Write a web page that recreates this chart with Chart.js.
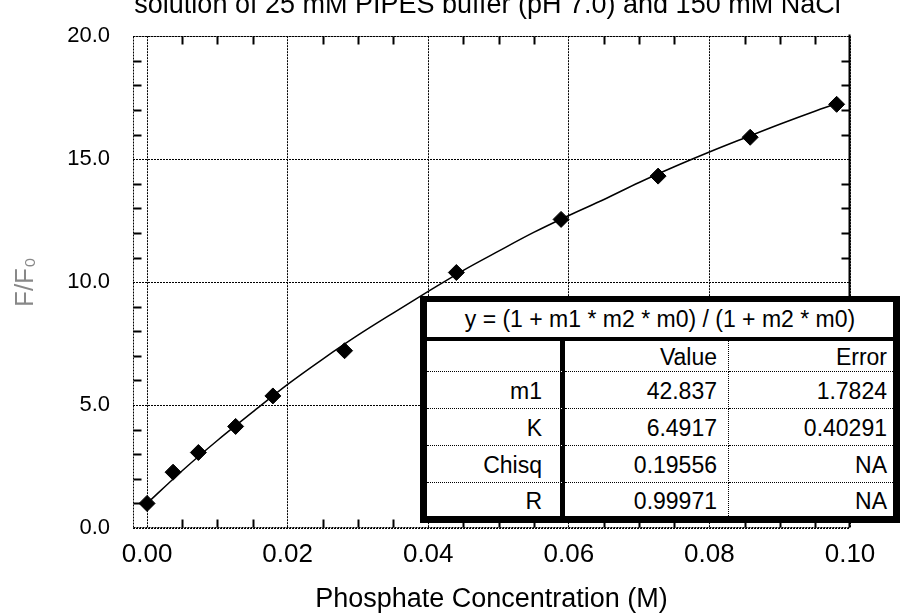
<!DOCTYPE html>
<html>
<head>
<meta charset="utf-8">
<script src="https://cdn.jsdelivr.net/npm/chart.js@4"></script>
<style>
  body { margin: 0; background: #fff; }
  #wrap { position: relative; width: 900px; height: 616px; overflow: hidden; font-family: "Liberation Sans", Arial, sans-serif; }
  #fit { position: absolute; left: 420px; top: 296px; width: 480px; height: 227px; box-sizing: border-box;
         border: 7px solid #000; border-top-width: 6px; background: #fff; display: grid;
         grid-template-columns: 138px 164px 164px; grid-template-rows: 39px 31px 37px 37px 37px 33px;
         font-size: 23px; color: #000; }
  #fit div { box-sizing: border-box; display: flex; align-items: center; justify-content: flex-end;
             padding-top: 3px; border-bottom: 1px dotted #000; white-space: nowrap; }
  #fit .eq { grid-column: 1 / 4; justify-content: center; border-bottom: 4px solid #000; padding-top: 0; }
  #fit .c1 { border-right: 5px solid #000; padding-right: 18px; }
  #fit .c2 { border-right: 1px dotted #000; padding-right: 11px; }
  #fit .c3 { padding-right: 6px; }
  #fit .last { border-bottom: none; }
</style>
</head>
<body>
<div id="wrap">
  <canvas id="grafico" width="900" height="616"></canvas>
  <div id="fit"></div>
</div>
<script>
// valores
const concentration = [0, 0.0037, 0.0073, 0.0126, 0.0179, 0.0281, 0.0440, 0.0589, 0.0727, 0.0858, 0.0981];
const ratio = [1.00, 2.27, 3.07, 4.13, 5.37, 7.21, 10.39, 12.55, 14.31, 15.89, 17.23];

// curva ajustada
const fitX = [0, 0.005, 0.01, 0.015, 0.02, 0.025, 0.03, 0.035, 0.04, 0.045, 0.05, 0.055, 0.06, 0.065, 0.07, 0.075, 0.08, 0.085, 0.09, 0.095, 0.098];
const fitY = [1.00, 2.33, 3.56, 4.71, 5.84, 6.87, 7.84, 8.74, 9.62, 10.48, 11.26, 12.02, 12.71, 13.36, 14.05, 14.69, 15.29, 15.86, 16.42, 16.95, 17.25];

const xTickValues = [0, 0.02, 0.04, 0.06, 0.08, 0.1];
const xTickLabels = ['0.00', '0.02', '0.04', '0.06', '0.08', '0.10'];
const yTickValues = [0, 5, 10, 15, 20];
const yTickLabels = ['0.0', '5.0', '10.0', '15.0', '20.0'];
const xMinorTicks = [0.005, 0.01, 0.015, 0.025, 0.03, 0.035, 0.045, 0.05, 0.055, 0.065, 0.07, 0.075, 0.085, 0.09, 0.095];
const yMinorTicks = [1, 2, 3, 4, 6, 7, 8, 9, 11, 12, 13, 14, 16, 17, 18, 19];

const chartTitle = 'solution of 25 mM PIPES buffer (pH 7.0) and 150 mM NaCl';
const xTitle = 'Phosphate Concentration (M)';
const yTitle = 'F/F₀';

const fitEquation = 'y = (1 + m1 * m2 * m0) / (1 + m2 * m0)';
const fitHeaders = ['', 'Value', 'Error'];
const fitParams = ['m1', 'K', 'Chisq', 'R'];
const fitValues = ['42.837', '6.4917', '0.19556', '0.99971'];
const fitErrors = ['1.7824', '0.40291', 'NA', 'NA'];

Chart.defaults.font.family = '"Liberation Sans", Arial, sans-serif';
Chart.defaults.color = '#000';

// moldura + tracinhos para dentro + título
const framePlugin = {
  id: 'frame',
  beforeDatasetsDraw(chart) {
    const {ctx, chartArea: a, scales} = chart;
    const L = Math.round(a.left) + 0.5, R = Math.round(a.right) - 0.5;
    const T = Math.round(a.top) + 0.5, B = Math.round(a.bottom) - 0.5;
    ctx.save();
    ctx.strokeStyle = '#000';
    ctx.lineWidth = 1;
    ctx.setLineDash([2, 1]);
    ctx.beginPath();
    ctx.moveTo(L, T); ctx.lineTo(R, T);
    ctx.moveTo(L, T); ctx.lineTo(L, B);
    ctx.moveTo(L, B); ctx.lineTo(R, B);
    ctx.stroke();
    ctx.setLineDash([]);
    ctx.beginPath();
    ctx.moveTo(R, T - 2); ctx.lineTo(R, B);
    xMinorTicks.forEach(v => {
      const px = Math.round(scales.x.getPixelForValue(v)) + 0.5;
      ctx.moveTo(px, T); ctx.lineTo(px, T + 8);
      ctx.moveTo(px, B); ctx.lineTo(px, B - 8);
    });
    yMinorTicks.forEach(v => {
      const py = Math.round(scales.y.getPixelForValue(v)) + 0.5;
      ctx.moveTo(L, py); ctx.lineTo(L + 8, py);
      ctx.moveTo(R, py); ctx.lineTo(R - 8, py);
    });
    ctx.lineWidth = 2;
    ctx.stroke();
    ctx.restore();
  },
  afterDraw(chart) {
    const {ctx, chartArea: a} = chart;
    ctx.save();
    ctx.fillStyle = '#000';
    ctx.font = '27px "Liberation Sans", Arial, sans-serif';
    ctx.textAlign = 'center';
    ctx.textBaseline = 'alphabetic';
    ctx.fillText(chartTitle, (a.left + a.right) / 2 - 4, 13);
    ctx.restore();
  }
};

const ctx = document.getElementById('grafico').getContext('2d');
const chart = new Chart(ctx, {
  type: 'scatter',
  data: {
    datasets: [
      {
        label: 'F/F0',
        data: concentration.map((x, i) => ({x: x, y: ratio[i]})),
        pointStyle: 'rectRot',
        pointRadius: 8,
        pointBackgroundColor: '#000',
        pointBorderColor: '#000',
        pointBorderWidth: 1,
        order: 0
      },
      {
        label: 'ajuste',
        data: fitX.map((x, i) => ({x: x, y: fitY[i]})),
        showLine: true,
        borderColor: '#000',
        borderWidth: 1.5,
        pointRadius: 0,
        cubicInterpolationMode: 'monotone',
        order: 1
      }
    ]
  },
  options: {
    responsive: false,
    animation: false,
    devicePixelRatio: 1,
    layout: { padding: { top: 25, right: 50, bottom: 0, left: 0 } },
    plugins: { legend: { display: false }, tooltip: { enabled: false }, title: { display: false } },
    scales: {
      x: {
        type: 'linear',
        min: -0.002,
        max: 0.1,
        afterBuildTicks: s => { s.ticks = xTickValues.map(v => ({value: v})); },
        afterFit: s => { s.height = 88; },
        ticks: { padding: 11, font: { size: 26 }, color: '#000', callback: (v, i) => xTickLabels[i] },
        grid: { color: '#000', lineWidth: 1, drawTicks: false },
        border: { display: false, dash: [2, 1] },
        title: { display: true, text: xTitle, color: '#000', font: { size: 27 }, padding: 0 }
      },
      y: {
        type: 'linear',
        min: 0,
        max: 20,
        afterBuildTicks: s => { s.ticks = yTickValues.map(v => ({value: v})); },
        afterFit: s => { s.width = 133; },
        ticks: { padding: 23, font: { size: 22 }, color: '#000', callback: (v, i) => yTickLabels[i] },
        grid: { color: '#000', lineWidth: 1, drawTicks: false },
        border: { display: false, dash: [2, 1] },
        title: { display: true, text: yTitle, color: '#888', font: { size: 26 }, padding: { top: 10, bottom: 0 } }
      }
    }
  },
  plugins: [framePlugin]
});

// tabela do ajuste
const fit = document.getElementById('fit');
function cell(text, cls) {
  const d = document.createElement('div');
  d.className = cls;
  d.textContent = text;
  fit.appendChild(d);
}
cell(fitEquation, 'eq');
fitHeaders.forEach((h, i) => cell(h, 'c' + (i + 1)));
fitParams.forEach((p, r) => {
  const last = r === fitParams.length - 1 ? ' last' : '';
  cell(p, 'c1' + last);
  cell(fitValues[r], 'c2' + last);
  cell(fitErrors[r], 'c3' + last);
});
</script>
</body>
</html>
